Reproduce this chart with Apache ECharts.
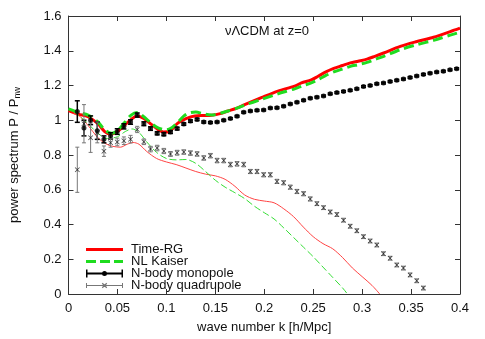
<!DOCTYPE html>
<html>
<head>
<meta charset="utf-8">
<script src="https://cdn.jsdelivr.net/npm/echarts@6/dist/echarts.min.js"></script>
<style>
html, body { margin: 0; padding: 0; background: #fff; }
#main { width: 485px; height: 339px; }
</style>
</head>
<body>
<div id="main"></div>
<script>
// N-body points (k in h/Mpc)
var kMono = [0.009, 0.0158, 0.0226, 0.0294, 0.0362, 0.043, 0.0498, 0.0566, 0.0634, 0.0702,
  0.077, 0.0838, 0.0906, 0.0974, 0.1042, 0.111, 0.1178, 0.1246, 0.1314, 0.1382,
  0.145, 0.1518, 0.1586, 0.1654, 0.1722, 0.179, 0.1858, 0.1926, 0.1994, 0.2062,
  0.213, 0.2198, 0.2266, 0.2334, 0.2402, 0.247, 0.2538, 0.2606, 0.2674, 0.2742,
  0.281, 0.2878, 0.2946, 0.3014, 0.3082, 0.315, 0.3218, 0.3286, 0.3354, 0.3422,
  0.349, 0.3558, 0.3626, 0.3694, 0.3762, 0.383, 0.3898, 0.3966];
var monoVal = [1.05, 0.955, 1.0, 0.94, 0.89, 0.91, 0.935, 0.965, 0.99, 1.03,
  0.98, 0.952, 0.925, 0.92, 0.932, 0.952, 0.978, 0.995, 1.005, 0.99,
  0.987, 0.99, 1.0, 1.01, 1.023, 1.046, 1.053, 1.057, 1.059, 1.07,
  1.072, 1.081, 1.094, 1.104, 1.115, 1.127, 1.133, 1.14, 1.152, 1.159,
  1.166, 1.172, 1.181, 1.194, 1.2, 1.21, 1.214, 1.223, 1.23, 1.237,
  1.246, 1.255, 1.264, 1.271, 1.277, 1.282, 1.29, 1.297];
var monoErr = [0.062, 0.045, 0.025, 0.05, 0.02, 0.018, 0.016, 0.015, 0.013, 0.012,
  0.011, 0.01, 0.009, 0.009, 0.008, 0.008, 0.007, 0.007, 0.007, 0.006,
  0.005, 0.005, 0.005, 0.005, 0.005, 0.005, 0.005, 0.005, 0.005, 0.005,
  0.005, 0.005, 0.005, 0.005, 0.005, 0.005, 0.005, 0.005, 0.005, 0.005,
  0.005, 0.005, 0.005, 0.005, 0.005, 0.005, 0.005, 0.005, 0.005, 0.005,
  0.005, 0.005, 0.005, 0.005, 0.005, 0.005, 0.005, 0.005];
var quadVal = [0.715, 0.98, 0.9, 0.93, 0.822, 0.87, 0.875, 0.882, 0.891, 0.947,
  0.876, 0.834, 0.84, 0.823, 0.806, 0.813, 0.817, 0.811, 0.806, 0.783,
  0.796, 0.768, 0.768, 0.745, 0.749, 0.745, 0.705, 0.705, 0.686, 0.686,
  0.648, 0.64, 0.615, 0.59, 0.577, 0.547, 0.52, 0.497, 0.472, 0.457,
  0.425, 0.39, 0.364, 0.33, 0.305, 0.282, 0.232, 0.206, 0.167, 0.149,
  0.11, 0.076, 0.034];
var quadErr = [0.13, 0.11, 0.085, 0.06, 0.03, 0.025, 0.022, 0.022, 0.022, 0.018,
  0.016, 0.016, 0.016, 0.015, 0.014, 0.014, 0.013, 0.013, 0.013, 0.013,
  0.013, 0.013, 0.013, 0.013, 0.013, 0.013, 0.012, 0.012, 0.012, 0.012,
  0.012, 0.012, 0.012, 0.012, 0.012, 0.012, 0.011, 0.011, 0.011, 0.011,
  0.011, 0.011, 0.011, 0.011, 0.011, 0.011, 0.011, 0.011, 0.011, 0.011,
  0.011, 0.011, 0.011];

// Time-RG monopole
var kRG = [0, 0.01, 0.02, 0.03, 0.037, 0.043, 0.05, 0.057, 0.064, 0.07,
  0.077, 0.085, 0.092, 0.097, 0.103, 0.106, 0.112, 0.12, 0.129, 0.138,
  0.146, 0.155, 0.163, 0.172, 0.18, 0.197, 0.214, 0.231, 0.238, 0.248,
  0.255, 0.263, 0.271, 0.28, 0.288, 0.296, 0.305, 0.313, 0.322, 0.339,
  0.356, 0.373, 0.39, 0.4];
var rgMono = [1.055, 1.035, 1.02, 0.98, 0.935, 0.92, 0.935, 0.97, 1.005, 1.025,
  1.01, 0.975, 0.945, 0.932, 0.935, 0.95, 0.985, 1.01, 1.025, 1.027,
  1.029, 1.038, 1.053, 1.07, 1.09, 1.13, 1.168, 1.196, 1.215, 1.232,
  1.253, 1.278, 1.298, 1.315, 1.33, 1.34, 1.352, 1.368, 1.387, 1.425,
  1.453, 1.478, 1.51, 1.53];
// NL Kaiser monopole
var kNL = [0, 0.01, 0.02, 0.03, 0.037, 0.044, 0.05, 0.057, 0.064, 0.07,
  0.077, 0.085, 0.092, 0.1, 0.105, 0.112, 0.118, 0.124, 0.13, 0.138,
  0.146, 0.155, 0.163, 0.172, 0.18, 0.197, 0.214, 0.231, 0.24, 0.248,
  0.255, 0.263, 0.271, 0.28, 0.288, 0.296, 0.305, 0.313, 0.322, 0.339,
  0.356, 0.373, 0.39, 0.4];
var nlMono = [1.065, 1.045, 1.03, 0.99, 0.945, 0.925, 0.94, 0.985, 1.03, 1.045,
  1.02, 0.98, 0.955, 0.945, 0.955, 0.99, 1.025, 1.043, 1.047, 1.037,
  1.03, 1.04, 1.053, 1.07, 1.087, 1.12, 1.152, 1.181, 1.2, 1.215,
  1.234, 1.258, 1.278, 1.295, 1.31, 1.32, 1.333, 1.35, 1.368, 1.406,
  1.435, 1.46, 1.49, 1.507];
// quadrupole predictions (thin lines)
var kRGq = [0.005, 0.012, 0.02, 0.03, 0.038, 0.045, 0.053, 0.06, 0.066, 0.072,
  0.08, 0.09, 0.1, 0.11, 0.12, 0.13, 0.14, 0.15, 0.16, 0.17,
  0.18, 0.19, 0.2, 0.21, 0.22, 0.23, 0.24, 0.25, 0.26, 0.27,
  0.28, 0.29, 0.3, 0.31, 0.318];
var rgQuad = [1.04, 1.02, 0.97, 0.9, 0.865, 0.85, 0.845, 0.862, 0.872, 0.862,
  0.82, 0.78, 0.76, 0.745, 0.725, 0.705, 0.69, 0.68, 0.66, 0.62,
  0.57, 0.545, 0.535, 0.525, 0.49, 0.445, 0.385, 0.33, 0.29, 0.26,
  0.21, 0.15, 0.1, 0.05, 0.0];
var kNLq = [0.005, 0.01, 0.02, 0.03, 0.04, 0.05, 0.058, 0.065, 0.072, 0.08,
  0.09, 0.1, 0.11, 0.12, 0.13, 0.14, 0.15, 0.16, 0.17, 0.18,
  0.19, 0.2, 0.21, 0.22, 0.23, 0.24, 0.25, 0.26, 0.27, 0.28, 0.285];
var nlQuad = [1.05, 1.03, 0.98, 0.925, 0.895, 0.905, 0.935, 0.95, 0.93, 0.875,
  0.815, 0.78, 0.772, 0.774, 0.752, 0.705, 0.655, 0.615, 0.583, 0.549,
  0.505, 0.468, 0.432, 0.38, 0.325, 0.27, 0.215, 0.155, 0.095, 0.035, 0.0];

var xTicks = [0, 0.05, 0.1, 0.15, 0.2, 0.25, 0.3, 0.35, 0.4];
var yTicks = [0, 0.2, 0.4, 0.6, 0.8, 1, 1.2, 1.4, 1.6];

function pairs(xs, ys) {
  var out = [];
  for (var i = 0; i < ys.length; i++) out.push([xs[i], ys[i]]);
  return out;
}
function triples(xs, ys, es) {
  var out = [];
  for (var i = 0; i < ys.length; i++) out.push([xs[i], ys[i], es[i]]);
  return out;
}
function errorBars(capW, color, lw) {
  return function (params, api) {
    var x = api.value(0), y = api.value(1), e = api.value(2);
    var hi = api.coord([x, y + e]), lo = api.coord([x, y - e]);
    var st = { stroke: color, lineWidth: lw };
    return { type: 'group', children: [
      { type: 'line', shape: { x1: hi[0], y1: hi[1], x2: lo[0], y2: lo[1] }, style: st },
      { type: 'line', shape: { x1: hi[0] - capW, y1: hi[1], x2: hi[0] + capW, y2: hi[1] }, style: st },
      { type: 'line', shape: { x1: lo[0] - capW, y1: lo[1], x2: lo[0] + capW, y2: lo[1] }, style: st }
    ]};
  };
}

var font = "'Liberation Sans', Arial, sans-serif";
var crossPath = 'path://M0,1L1,0L5,4L9,0L10,1L6,5L10,9L9,10L5,6L1,10L0,9L4,5Z';
// legend icons, drawn in a 37x8 box (tiny corner squares keep the box size)
var boxPts = 'M0,0h0.05v0.05h-0.05zM36.95,7.95h0.05v0.05h-0.05z';
var rgIcon = 'path://' + boxPts + 'M0,2.5h37v3h-37z';
var nlIcon = 'path://' + boxPts + 'M0,2.5h10v3h-10zM14,2.5h10v3h-10zM28,2.5h9v3h-9z';
var monoIcon = 'path://M0,3h37v2h-37zM0,0h1.5v8h-1.5zM35.5,0h1.5v8h-1.5zM16,4a2.5,2.5 0 1,1 5,0a2.5,2.5 0 1,1 -5,0z';
var quadIcon = 'path://' + boxPts + 'M0,3.5h37v1h-37zM0,1.5h1v5h-1zM36,1.5h1v5h-1zM15.8,2.2L16.7,1.3L21.2,5.8L20.3,6.7zM20.3,1.3L21.2,2.2L16.7,6.7L15.8,5.8z';

var chart = echarts.init(document.getElementById('main'));
var axisCommon = {
  type: 'value',
  axisLine: { show: true, onZero: false, lineStyle: { color: '#333', width: 1 } },
  axisTick: { show: true, inside: true, length: 5, lineStyle: { color: '#333' } },
  splitLine: { show: false }
};
var option = {
  animation: false,
  backgroundColor: '#fff',
  textStyle: { fontFamily: font },
  title: {
    text: 'νΛCDM at z=0',
    left: 267, top: 25, padding: 0, textAlign: 'center',
    textStyle: { fontSize: 13, fontWeight: 'normal', color: '#111', fontFamily: font }
  },
  grid: { left: 66, right: 25, top: 16, bottom: 43 },
  legend: {
    orient: 'vertical', left: 81, top: 238, itemWidth: 37, itemHeight: 8, itemGap: -1,
    selectedMode: false,
    textStyle: { fontSize: 13, lineHeight: 13, color: '#111', fontFamily: font, padding: [0, 0, 0, 3] },
    data: [
      { name: 'Time-RG', icon: rgIcon, itemStyle: { color: '#ff0000' } },
      { name: 'NL Kaiser', icon: nlIcon, itemStyle: { color: '#1fdc1f' } },
      { name: 'N-body monopole', icon: monoIcon, itemStyle: { color: '#000' } },
      { name: 'N-body quadrupole', icon: quadIcon, itemStyle: { color: '#777' } }
    ]
  },
  xAxis: [
    Object.assign({}, axisCommon, {
      min: xTicks[0], max: xTicks[xTicks.length - 1], interval: 0.05,
      name: 'wave number k [h/Mpc]', nameLocation: 'middle', nameGap: 27,
      nameTextStyle: { fontSize: 13, color: '#111', fontFamily: font },
      axisLabel: { fontSize: 13, color: '#111', margin: 8, fontFamily: font }
    }),
    Object.assign({}, axisCommon, {
      position: 'top', min: xTicks[0], max: xTicks[xTicks.length - 1], interval: 0.05,
      axisLabel: { show: false }
    })
  ],
  yAxis: [
    Object.assign({}, axisCommon, {
      min: yTicks[0], max: yTicks[yTicks.length - 1], interval: 0.2,
      name: '{a|power spectrum P / P}{b|nw}', nameLocation: 'middle', nameGap: 46, nameRotate: 90,
      nameTextStyle: {
        color: '#111', fontFamily: font,
        rich: {
          a: { fontSize: 13, color: '#111', fontFamily: font },
          b: { fontSize: 9, color: '#111', fontFamily: font, padding: [7, 0, 0, 0] }
        }
      },
      axisLabel: { fontSize: 13, color: '#111', margin: 7, fontFamily: font }
    }),
    Object.assign({}, axisCommon, {
      position: 'right', min: yTicks[0], max: yTicks[yTicks.length - 1], interval: 0.2,
      axisLabel: { show: false }
    })
  ],
  series: [
    {
      name: 'Time-RG', type: 'line', data: pairs(kRG, rgMono),
      showSymbol: false, symbol: 'none', smooth: 0.3, z: 2,
      lineStyle: { color: '#ff0000', width: 3 }, itemStyle: { color: '#ff0000' }
    },
    {
      name: 'NL Kaiser', type: 'line', data: pairs(kNL, nlMono),
      showSymbol: false, symbol: 'none', smooth: 0.3, z: 3,
      lineStyle: { color: '#1fdc1f', width: 3, type: [10, 5] }, itemStyle: { color: '#1fdc1f' }
    },
    {
      name: 'rgq', type: 'line', data: pairs(kRGq, rgQuad),
      showSymbol: false, symbol: 'none', smooth: 0.3, z: 2,
      lineStyle: { color: '#ff4444', width: 1 }
    },
    {
      name: 'nlq', type: 'line', data: pairs(kNLq, nlQuad),
      showSymbol: false, symbol: 'none', smooth: 0.3, z: 2,
      lineStyle: { color: '#33dd33', width: 1, type: [7, 3] }
    },
    {
      name: 'N-body monopole', type: 'custom', z: 4,
      renderItem: errorBars(2.5, '#000', 1.5),
      data: triples(kMono, monoVal, monoErr), encode: { x: 0, y: 1 }
    },
    {
      name: 'N-body monopole', type: 'scatter', z: 5,
      data: pairs(kMono, monoVal), symbol: 'circle', symbolSize: 5,
      itemStyle: { color: '#000' }
    },
    {
      name: 'N-body quadrupole', type: 'custom', z: 4,
      renderItem: errorBars(2, '#777', 1),
      data: triples(kMono, quadVal, quadErr), encode: { x: 0, y: 1 }
    },
    {
      name: 'N-body quadrupole', type: 'scatter', z: 5,
      data: pairs(kMono, quadVal), symbol: crossPath, symbolSize: 5,
      itemStyle: { color: '#111' }
    }
  ]
};
chart.setOption(option);
</script>
</body>
</html>
